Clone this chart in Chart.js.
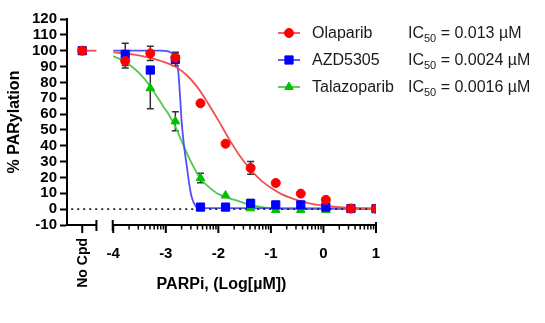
<!DOCTYPE html>
<html><head><meta charset="utf-8">
<script src="https://cdn.jsdelivr.net/npm/chart.js@4.4.1/dist/chart.umd.min.js"></script>
<style>html,body{margin:0;padding:0;background:#fff;}#wrap{width:545px;height:323px;}</style>
</head><body><div id="wrap"><canvas id="c" width="545" height="323"></canvas></div>
<script>
// ---- data ----
const seriesNames = ['Olaparib', 'AZD5305', 'Talazoparib'];
const ic50Values = ['0.013 µM', '0.0024 µM', '0.0016 µM'];
const noCpdLabel = 'No Cpd';
const noCpdX = -4.59;
const doseLog = [-3.772, -3.295, -2.818, -2.34, -1.863, -1.386, -0.908, -0.431, 0.046, 0.523, 1.0];
const olaparibNoCpd = 100;
const azdNoCpd = 100;
const olaparibY   = [93.5, 98.3, 95.5, 66.8, 41.3, 26.0, 16.5, 9.8, 5.9, 0.4, 0.3];
const olaparibErr = [4.5, 4.5, 3.5, 0, 0, 4.0, 0, 0, 0, 0, 0];
const azdY        = [97.7, 87.8, 94.5, 1.3, 1.3, 3.6, 2.7, 2.7, 1.3, 0.4, 0.3];
const azdErr      = [7.0, 0, 4.0, 0, 0, 2.5, 0, 0, 0, 0, 0];
const talaY       = [null, 76.3, 55.4, 19.6, 8.6, 0.5, -0.5, -0.5, -0.5, 0, 0];
const talaErr     = [0, 13.0, 6.0, 3.0, 0, 0, 0, 0, 0, 0, 0];
// fitted curves
const olaCurveX = [-4.0, -3.6, -3.3, -3.0, -2.8, -2.6, -2.4, -2.2, -2.0, -1.8, -1.6, -1.4, -1.2, -1.0, -0.8, -0.6, -0.4, -0.2, 0.0, 0.3, 0.6, 1.0];
const olaCurveY = [99, 97.5, 95.5, 92.5, 89.5, 84.5, 77, 67, 56, 44.5, 34, 25.5, 18.5, 13.5, 9.5, 6.8, 4.7, 3.2, 2.2, 1.2, 0.6, 0.3];
const azdCurveX = [-4.0, -3.1, -2.95, -2.85, -2.80, -2.76, -2.73, -2.70, -2.66, -2.60, -2.55, -2.51, -2.46, -2.41, -2.3, 1.0];
const azdCurveY = [100, 100, 99.5, 97, 93, 86, 72, 56, 42, 27, 15, 8, 3.5, 1.2, 0.6, 0.5];
const talaCurveX = [-4.0, -3.8, -3.62, -3.45, -3.3, -3.05, -2.95, -2.82, -2.7, -2.6, -2.5, -2.35, -2.2, -2.03, -1.8, -1.59, -1.4, -1.2, -1.02, -0.5, 1.0];
const talaCurveY = [96.6, 93.5, 89.2, 84, 77.6, 65, 60, 52.3, 43, 35.4, 28.5, 19.6, 14.5, 10.1, 7, 4.8, 2.7, 1.5, 0.6, 0, 0];
const noCpdLineX = [-4.67, -4.32];
const noCpdLineY = [100, 100];
const zeroLineX = [-4.8, 1.0];
const zeroLineY = [0, 0];
const xTickValues = [-4, -3, -2, -1, 0, 1];
const xTickLabels = ['-4', '-3', '-2', '-1', '0', '1'];
const yTickValues = [-10, 0, 10, 20, 30, 40, 50, 60, 70, 80, 90, 100, 110, 120];

// ---- styles ----
const RED = '#ff0000', BLUE = '#0000ff', GREEN = '#00c000';
const RED_L = 'rgb(240,80,80)', BLUE_L = 'rgb(80,80,245)', GREEN_L = 'rgb(80,200,80)';
const FONT = "'Liberation Sans', Arial, sans-serif";
Chart.defaults.font.family = FONT;

const pts = (xs, ys) => xs.map((x, i) => ({x: x, y: ys[i]}));

const ptsDs = (label, xs, ys, errs, color, style, radius, order) => ({
  label, data: pts(xs, ys), errs, showLine: false, order,
  backgroundColor: color, borderColor: color, pointStyle: style,
  pointRadius: radius, pointBorderWidth: 1, pointHoverRadius: radius
});
const curveDs = (xs, ys, color, order) => ({
  data: pts(xs, ys), showLine: true, pointRadius: 0, order,
  borderColor: color, borderWidth: 1.8, cubicInterpolationMode: 'monotone', fill: false
});

const errorBars = {
  id: 'errorBars',
  beforeDatasetsDraw(chart) {
    const ctx = chart.ctx, ys = chart.scales.y, xs = chart.scales.x;
    ctx.save();
    ctx.strokeStyle = '#333'; ctx.lineWidth = 1.5;
    chart.data.datasets.forEach(ds => {
      if (!ds.errs) return;
      ds.data.forEach((p, i) => {
        const e = ds.errs[i];
        if (!e || p.y == null) return;
        const px = xs.getPixelForValue(p.x);
        const y1 = ys.getPixelForValue(p.y + e), y2 = ys.getPixelForValue(p.y - e);
        ctx.beginPath();
        ctx.moveTo(px, y1); ctx.lineTo(px, y2);
        ctx.moveTo(px - 3.5, y1); ctx.lineTo(px + 3.5, y1);
        ctx.moveTo(px - 3.5, y2); ctx.lineTo(px + 3.5, y2);
        ctx.stroke();
      });
    });
    ctx.restore();
  }
};

const brokenAxis = {
  id: 'brokenAxis',
  afterDraw(chart) {
    const ctx = chart.ctx, xs = chart.scales.x, ca = chart.chartArea;
    const yb = ca.bottom;
    const P = v => xs.getPixelForValue(v);
    ctx.save();
    ctx.strokeStyle = '#000'; ctx.lineCap = 'butt';
    ctx.lineWidth = 2;
    ctx.beginPath();
    ctx.moveTo(ca.left - 1, yb); ctx.lineTo(P(-4.32), yb);
    ctx.moveTo(P(-4.01), yb); ctx.lineTo(P(1) + 1, yb);
    [-4.32, -4.01].forEach(v => { ctx.moveTo(P(v), yb - 5); ctx.lineTo(P(v), yb + 6); });
    ctx.moveTo(P(noCpdX), yb); ctx.lineTo(P(noCpdX), yb + 8);
    xTickValues.forEach(v => { ctx.moveTo(P(v), yb); ctx.lineTo(P(v), yb + 8); });
    ctx.moveTo(P(1), yb - 3); ctx.lineTo(P(1), yb);
    ctx.stroke();
    ctx.lineWidth = 1.5;
    ctx.beginPath();
    for (let n = -4; n < 1; n++) {
      for (let k = 2; k <= 9; k++) {
        const px = P(n + Math.log10(k));
        ctx.moveTo(px, yb); ctx.lineTo(px, yb + 4.5);
      }
    }
    ctx.stroke();
    ctx.fillStyle = '#000';
    ctx.font = 'bold 14px ' + FONT;
    ctx.translate(P(noCpdX), yb + 13);
    ctx.rotate(-Math.PI / 2);
    ctx.textAlign = 'right'; ctx.textBaseline = 'middle';
    ctx.fillText(noCpdLabel, 0, 1);
    ctx.restore();
  }
};

const customLegend = {
  id: 'customLegend',
  afterDraw(chart) {
    const ctx = chart.ctx;
    const rows = [
      {c: RED, l: RED_L, s: 'circle', r: 4.5},
      {c: BLUE, l: BLUE_L, s: 'rect', r: 5.8},
      {c: GREEN, l: GREEN_L, s: 'triangle', r: 5}
    ];
    const ys = [33, 60, 87];
    ctx.save();
    rows.forEach((row, i) => {
      const y = ys[i];
      ctx.strokeStyle = row.l; ctx.lineWidth = 1.8;
      ctx.beginPath(); ctx.moveTo(278, y); ctx.lineTo(300, y); ctx.stroke();
      ctx.fillStyle = row.c; ctx.strokeStyle = row.c; ctx.lineWidth = 1;
      Chart.helpers.drawPoint(ctx, {pointStyle: row.s, radius: row.r, rotation: 0, borderWidth: 1}, 289, y);
      ctx.fillStyle = '#1a1a1a';
      ctx.textBaseline = 'middle'; ctx.textAlign = 'left';
      ctx.font = '16px ' + FONT;
      ctx.fillText(seriesNames[i], 312, y + 1);
      let x = 408;
      ctx.fillText('IC', x, y + 1); x += ctx.measureText('IC').width;
      ctx.font = '11px ' + FONT;
      ctx.fillText('50', x, y + 6); x += ctx.measureText('50').width;
      ctx.font = '16px ' + FONT;
      ctx.fillText(' = ' + ic50Values[i], x, y + 1);
    });
    ctx.restore();
  }
};

new Chart(document.getElementById('c'), {
  type: 'scatter',
  data: {
    datasets: [
      ptsDs(seriesNames[0], [noCpdX].concat(doseLog), [olaparibNoCpd].concat(olaparibY), [0].concat(olaparibErr), RED, 'circle', 4.5, 0),
      ptsDs(seriesNames[1], [noCpdX].concat(doseLog), [azdNoCpd].concat(azdY), [0].concat(azdErr), BLUE, 'rect', 5.8, 1),
      ptsDs(seriesNames[2], doseLog, talaY, talaErr, GREEN, 'triangle', 5, 2),
      Object.assign(curveDs(zeroLineX, zeroLineY, '#222', 3), {borderDash: [2, 4], borderWidth: 1.6, cubicInterpolationMode: 'default', tension: 0}),
      curveDs(olaCurveX, olaCurveY, RED_L, 4),
      curveDs(azdCurveX, azdCurveY, BLUE_L, 5),
      curveDs(talaCurveX, talaCurveY, GREEN_L, 6),
      curveDs(noCpdLineX, noCpdLineY, RED_L, 7)
    ]
  },
  options: {
    responsive: false, animation: false, devicePixelRatio: 1,
    layout: {padding: {left: 0, right: 169, top: 19, bottom: 0}},
    plugins: {legend: {display: false}, tooltip: {enabled: false}},
    scales: {
      x: {
        type: 'linear', min: -4.88, max: 1,
        afterBuildTicks: s => { s.ticks = xTickValues.map(v => ({value: v})); },
        afterFit: s => { s.height = 98; },
        grid: {display: false}, border: {display: false},
        ticks: {autoSkip: false, maxRotation: 0, minRotation: 0, padding: 12, color: '#000',
          font: {size: 15, weight: 'bold'}, callback: (v, i) => xTickLabels[i]},
        title: {display: true, text: 'PARPi, (Log[µM])', color: '#000', font: {size: 16, weight: 'bold'}, padding: {top: 0, bottom: 29}}
      },
      y: {
        min: -10, max: 120,
        afterBuildTicks: s => { s.ticks = yTickValues.map(v => ({value: v})); },
        afterFit: s => { s.width = 67; },
        grid: {drawOnChartArea: false, drawTicks: true, tickLength: 7, tickWidth: 2, tickColor: '#000'},
        border: {display: true, color: '#000', width: 2},
        ticks: {autoSkip: false, padding: 3, color: '#000', font: {size: 15, weight: 'bold'}, callback: v => String(v)},
        title: {display: true, text: '% PARylation', color: '#000', font: {size: 16, weight: 'bold'}, padding: {top: 5, bottom: 0}}
      }
    }
  },
  plugins: [errorBars, brokenAxis, customLegend]
});
</script>
</body></html>
